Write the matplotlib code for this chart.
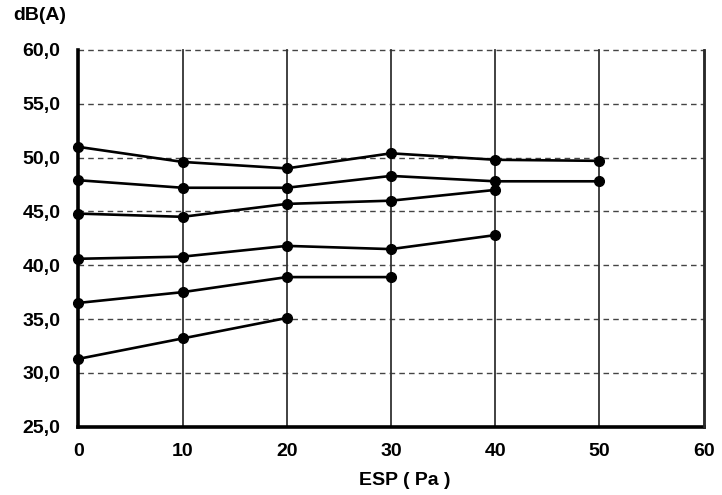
import matplotlib
matplotlib.use("Agg")
import matplotlib.pyplot as plt
from matplotlib.lines import Line2D
from matplotlib.ticker import FuncFormatter

plt.rcParams['font.family'] = ['Liberation Sans', 'DejaVu Sans']

esp = [0, 10, 20, 30, 40, 50]
series = [
    [51.0, 49.6, 49.0, 50.4, 49.8, 49.7],
    [47.9, 47.2, 47.2, 48.3, 47.8, 47.8],
    [44.8, 44.5, 45.7, 46.0, 47.0],
    [40.6, 40.8, 41.8, 41.5, 42.8],
    [36.5, 37.5, 38.9, 38.9],
    [31.3, 33.2, 35.1],
]
xticks = [0, 10, 20, 30, 40, 50, 60]
yticks = [25, 30, 35, 40, 45, 50, 55, 60]

fig = plt.figure(figsize=(7.22, 4.95), dpi=100)
ax = fig.add_axes([0.1085, 0.138, 0.866, 0.761])

for s in series:
    ax.plot(esp[:len(s)], s, color='black', lw=1.9, marker='o', ms=7,
            clip_on=False, zorder=5)

ax.set_xlim(0, 60)
ax.set_ylim(25, 60)
ax.set_xticks(xticks)
ax.set_yticks(yticks)
ax.yaxis.set_major_formatter(FuncFormatter(lambda v, p: f"{v:.1f}".replace('.', ',')))

for x in xticks[1:-1]:
    ax.plot([x, x], [yticks[0], yticks[-1]], color='#333333', lw=1.3,
            zorder=2, clip_on=False)
for y in yticks[1:]:
    ax.axhline(y, color='#444444', lw=1.0, ls=(0, (4, 3)), zorder=1, clip_on=False)

ax.spines['top'].set_visible(False)
ax.spines['right'].set_visible(True)
ax.spines['right'].set_color('#2a2a2a')
ax.spines['right'].set_linewidth(1.8)
ax.spines['left'].set_linewidth(2.6)
ax.spines['bottom'].set_linewidth(2.6)

# explicit edge line in figure coordinates as well
x_edge = ax.get_position().x1
fig.add_artist(Line2D([x_edge, x_edge], [ax.get_position().y0, ax.get_position().y1],
                      transform=fig.transFigure, color='#2a2a2a', lw=1.8, zorder=10))

ax.tick_params(length=0, labelsize=14, pad=13)
ax.tick_params(axis='x', pad=12)
for lbl in ax.get_xticklabels() + ax.get_yticklabels():
    lbl.set_fontweight('bold')

fig.text(0.018, 0.968, 'dB(A)', fontsize=14, fontweight='bold', ha='left', va='center')
fig.text(0.561, 0.03, 'ESP ( Pa )', fontsize=14, fontweight='bold', ha='center', va='center')

fig.savefig('out.png', dpi=100)
